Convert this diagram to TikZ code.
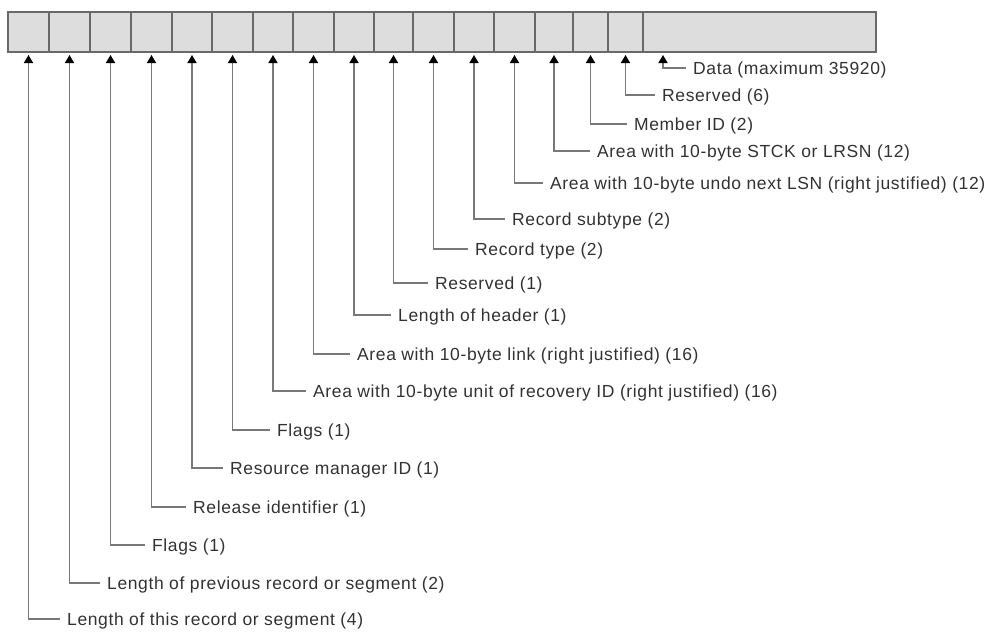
\documentclass[tikz,border=0pt]{standalone}
\usepackage{fontspec}
\setmainfont{Liberation Sans}
\newfontfamily\lblfont{Liberation Sans}[LetterSpace=3.5]
\usetikzlibrary{arrows.meta,positioning}
\definecolor{cellgray}{RGB}{221,221,221}
\definecolor{rulegray}{RGB}{105,105,105}
\definecolor{leadgray}{RGB}{120,120,120}
\definecolor{txtgray}{RGB}{50,50,50}

\begin{document}
\begin{tikzpicture}[x=1pt,y=-1pt,
    cell/.style={draw=rulegray,line width=1.8pt,fill=cellgray,minimum height=40pt,
      inner sep=0pt,outer sep=0pt,anchor=north west},
    lbl/.style={anchor=west,text=txtgray,inner xsep=7pt,inner ysep=0pt,
      text height=15.5pt,text depth=3pt,font=\lblfont\fontsize{17.5}{20}\selectfont},
    lead/.style={draw=leadgray,line width=1.5pt,
      -{Triangle[length=8pt,width=9pt,color=black]},shorten >=3pt}]
  \useasboundingbox (0,0) rectangle (994,633);
  % record header fields, then the data area
  \foreach \n/\l/\w in {1/8/41,2/49/41,3/90/41,4/131/41,5/172/40,6/212/41,7/253/40,
      8/293/41,9/334/40,10/374/39,11/413/41,12/454/40,13/494/41,14/535/38,
      15/573/35,16/608/35,17/643/233}
    \node[cell,minimum width=\w pt] (c\n) at (\l,12) {};
  \coordinate (dpt) at ([xshift=20pt]c17.south west);

  \node[lbl] (l1) at (60,619) {Length of this record or segment (4)};
  \node[lbl] (l2) at (100,583) {Length of previous record or segment (2)};
  \node[lbl] (l3) at (145,545) {Flags (1)};
  \node[lbl] (l4) at (186,507) {Release identifier (1)};
  \node[lbl] (l5) at (223,468) {Resource manager ID (1)};
  \node[lbl] (l6) at (270,430) {Flags (1)};
  \node[lbl] (l7) at (306,391) {Area with 10-byte unit of recovery ID (right justified) (16)};
  \node[lbl] (l8) at (350,354) {Area with 10-byte link (right justified) (16)};
  \node[lbl] (l9) at (391,315) {Length of header (1)};
  \node[lbl] (l10) at (428,283) {Reserved (1)};
  \node[lbl] (l11) at (468,249) {Record type (2)};
  \node[lbl] (l12) at (505,219) {Record subtype (2)};
  \node[lbl] (l13) at (543,183) {Area with 10-byte undo next LSN (right justified) (12)};
  \node[lbl] (l14) at (590,151) {Area with 10-byte STCK or LRSN (12)};
  \node[lbl] (l15) at (627,124) {Member ID (2)};
  \node[lbl] (l16) at (655,95) {Reserved (6)};
  \node[lbl] (l17) at (686,68) {Data (maximum 35920)};

  \foreach \n in {1,...,16}
    \draw[lead] (l\n.west) -| (c\n.south);
  \draw[lead] (l17.west) -| (dpt);
\end{tikzpicture}
\end{document}
